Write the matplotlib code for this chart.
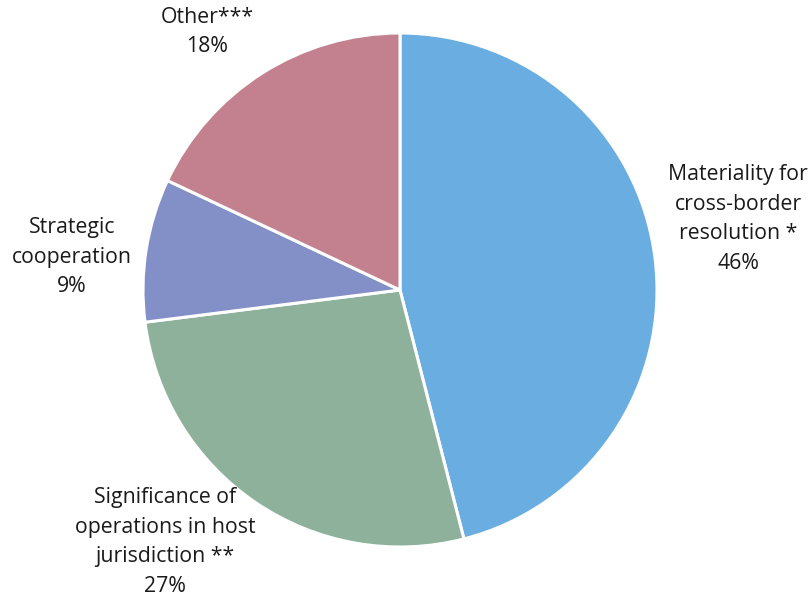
import numpy as np
import matplotlib.pyplot as plt

# Shares of cases by reason (percent)
labels = ["Materiality for\ncross-border\nresolution *",
          "Significance of\noperations in host\njurisdiction **",
          "Strategic\ncooperation",
          "Other***"]
shares = [46, 27, 9, 18]
colors = ["#6aade1", "#8db19b", "#8390c8", "#c3818f"]

# label anchor points in figure pixels (top-left origin)
label_pos = [(738, 219), (165, 542), (72, 257), (207, 32)]

W, H = 810, 599
fig = plt.figure(figsize=(W / 100, H / 100), dpi=100)
ax = fig.add_axes([0, 0, 1, 1])

cx, cy, r = 400, H - 290, 257
wedges, _ = ax.pie(shares, colors=colors, startangle=90, counterclock=False,
                   center=(cx, cy), radius=r, frame=True,
                   wedgeprops=dict(edgecolor="white", linewidth=2.2))
ax.set_xlim(0, W)
ax.set_ylim(0, H)
ax.set_aspect("equal")
ax.axis("off")

for lab, val, (px, py) in zip(labels, shares, label_pos):
    ax.text(px, H - py, f"{lab}\n{val}%", ha="center", va="center",
            fontsize=15.3, family="Open Sans", color="#1a1a1a", linespacing=1.55)

fig.savefig("out.png", dpi=100)
